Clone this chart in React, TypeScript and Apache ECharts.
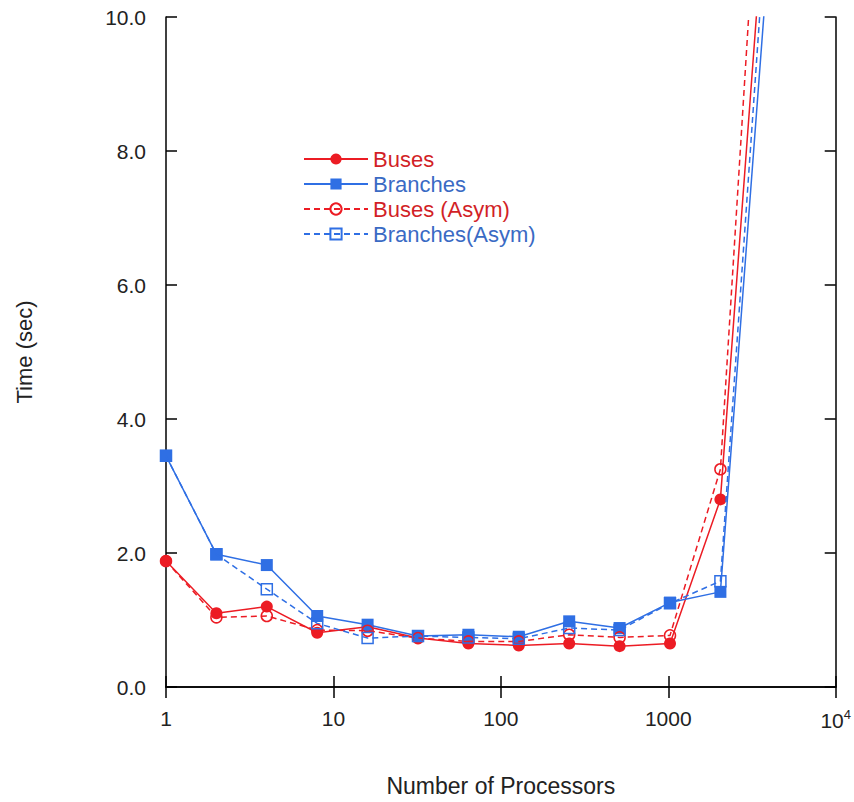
import React, { useEffect, useRef } from "react";
import * as echarts from "echarts";

const processors = [1, 2, 4, 8, 16, 32, 64, 128, 256, 512, 1024, 2048, 4096];
const buses = [1.88, 1.1, 1.2, 0.81, 0.9, 0.73, 0.65, 0.62, 0.65, 0.61, 0.65, 2.8, 12.9];
const branches = [3.45, 1.98, 1.82, 1.06, 0.93, 0.76, 0.78, 0.75, 0.98, 0.88, 1.26, 1.42, 11.4];
const busesAsym = [1.88, 1.04, 1.06, 0.85, 0.84, 0.73, 0.68, 0.68, 0.78, 0.74, 0.77, 3.25, 15.3];
const branchesAsym = [3.45, 1.98, 1.46, 0.95, 0.73, 0.76, 0.74, 0.72, 0.88, 0.85, 1.25, 1.58, 12.4];
const seriesNames = ["Buses", "Branches", "Buses (Asym)", "Branches(Asym)"];
const yTicks = [0, 2, 4, 6, 8, 10];

const RED = "#ec1c24";
const BLUE = "#2f6fe4";
const FONT = "Liberation Sans";

const pairs = (ys: number[]) => processors.map((x, i) => [x, ys[i]]);

export default function App() {
  const ref = useRef<HTMLDivElement>(null);
  useEffect(() => {
    if (!ref.current) return;
    const chart = echarts.init(ref.current, null, { renderer: "svg" });
    const axisLine = { show: true, lineStyle: { color: "#000", width: 1.5 } };
    const tick = { show: true, inside: true, length: 11, lineStyle: { color: "#000", width: 1.5 } };
    const mk = (
      name: string,
      ys: number[],
      color: string,
      symbol: string,
      hollow: boolean,
      dashed: boolean
    ) => ({
      name,
      type: "line",
      data: pairs(ys),
      symbol,
      symbolSize: hollow ? 11 : 12,
      clip: true,
      lineStyle: { color, width: 1.5, type: dashed ? [6, 4] : "solid" },
      itemStyle: hollow
        ? { color: "none", borderColor: color, borderWidth: 1.5 }
        : { color, borderColor: color, borderWidth: 0 },
      z: dashed ? 3 : 2,
    });
    chart.setOption({
      animation: false,
      backgroundColor: "#fff",
      textStyle: { fontFamily: FONT },
      grid: { left: 166, right: 17, top: 17, bottom: 112, containLabel: false },
      legend: {
        orient: "vertical",
        left: 303,
        top: 147,
        padding: 0,
        itemWidth: 64,
        itemHeight: 14,
        itemGap: 1,
        data: [
          { name: seriesNames[0], textStyle: { color: "#d21f27" } },
          { name: seriesNames[1], textStyle: { color: "#3a6ac4" } },
          { name: seriesNames[2], textStyle: { color: "#d21f27" } },
          { name: seriesNames[3], textStyle: { color: "#3a6ac4" } },
        ],
        textStyle: { fontSize: 22, fontFamily: FONT, lineHeight: 24 },
        selectedMode: false,
      },
      xAxis: [
        {
          type: "log",
          logBase: 10,
          min: 1,
          max: 10000,
          axisLine,
          axisTick: tick,
          minorTick: { show: false },
          splitLine: { show: false },
          axisLabel: {
            margin: 21,
            color: "#222",
            fontSize: 21,
            fontFamily: FONT,
            formatter: (v: number) => (v >= 10000 ? "{a|10}{s|4}" : String(Math.round(v))),
            rich: {
              a: { fontSize: 21, fontFamily: FONT, color: "#222" },
              s: { fontSize: 13, fontFamily: FONT, color: "#222", verticalAlign: "top", padding: [0, 0, 12, 0] },
            },
          },
          name: "Number of Processors",
          nameLocation: "middle",
          nameGap: 87,
          nameTextStyle: { fontSize: 23, color: "#222", fontFamily: FONT },
        },
        {
          type: "log",
          logBase: 10,
          min: 1,
          max: 10000,
          position: "top",
          axisLine,
          axisTick: tick,
          axisLabel: { show: false },
          splitLine: { show: false },
        },
      ],
      yAxis: [
        {
          type: "value",
          min: 0,
          max: 10,
          interval: 2,
          axisLine,
          axisTick: tick,
          splitLine: { show: false },
          axisLabel: {
            margin: 20,
            color: "#222",
            fontSize: 21,
            fontFamily: FONT,
            formatter: (v: number) => (yTicks.includes(v) ? v.toFixed(1) : ""),
          },
          name: "Time (sec)",
          nameLocation: "middle",
          nameGap: 131,
          nameTextStyle: { fontSize: 22, color: "#222", fontFamily: FONT },
        },
        {
          type: "value",
          min: 0,
          max: 10,
          interval: 2,
          position: "right",
          axisLine,
          axisTick: tick,
          axisLabel: { show: false },
          splitLine: { show: false },
        },
      ],
      series: [
        mk(seriesNames[0], buses, RED, "circle", false, false),
        mk(seriesNames[1], branches, BLUE, "rect", false, false),
        mk(seriesNames[2], busesAsym, RED, "circle", true, true),
        mk(seriesNames[3], branchesAsym, BLUE, "rect", true, true),
      ],
    });
    return () => chart.dispose();
  }, []);
  return <div ref={ref} style={{ width: 854, height: 802, position: "absolute", left: 0, top: 0 }} />;
}
